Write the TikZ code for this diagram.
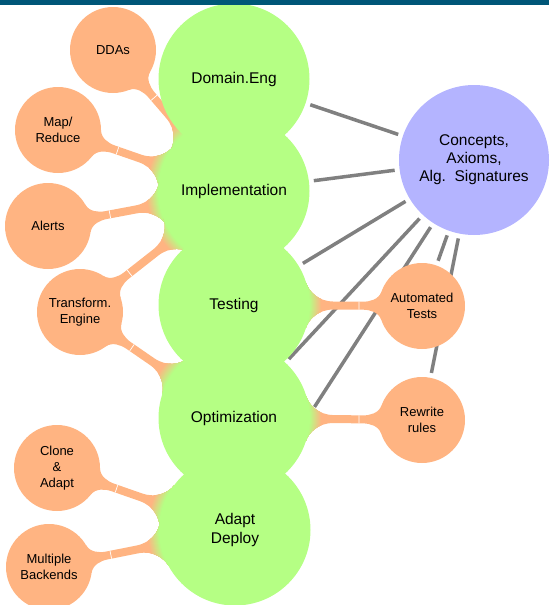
\documentclass[tikz,border=0pt]{standalone}
\usepackage{fontspec}
\setmainfont{Liberation Sans}
\usetikzlibrary{calc}
\definecolor{cgreen}{RGB}{181,255,132}
\definecolor{corange}{RGB}{255,180,130}
\definecolor{cpurple}{RGB}{180,180,255}
\definecolor{cline}{RGB}{128,128,128}
\definecolor{ctop}{RGB}{0,86,120}
\pgfdeclarelayer{bg}
\pgfdeclarelayer{mid}
\pgfsetlayers{bg,mid,main}
% outline of a stem in local coordinates (green centre at origin, orange centre at (\sblen,0))
\newcommand\sbpath{%
  (0,0) -- (72.2,-22.1) .. controls (74.6,-14.2) and (84,-4) .. (99.5,-4)
  -- ({\sblen-59},-4) .. controls ({\sblen-52},-4) and ({\sblen-43.3},-6.4) .. ({\sblen-40.7},-14)
  -- (\sblen,0)
  -- ({\sblen-40.7},14) .. controls ({\sblen-43.3},6.4) and ({\sblen-52},4) .. ({\sblen-59},4)
  -- (99.5,4) .. controls (84,4) and (74.6,14.2) .. (72.2,22.1) -- cycle}
% stem from green concept #1 to orange concept #2
\newcommand\stembar[2]{%
  \path let \p1=(#1.center), \p2=(#2.center) in
    \pgfextra{\pgfmathsetmacro\sbang{atan2(\y2-\y1,\x2-\x1)}%
              \pgfmathsetmacro\sblen{veclen(\x2-\x1,\y2-\y1)}%
              \xdef\sbang{\sbang}\xdef\sblen{\sblen}};
  \begin{scope}[shift={(#1.center)},rotate=\sbang]
    \fill[corange] \sbpath;
    \begin{scope}
      \clip \sbpath;
      \foreach \i in {0,...,12}{%
        \pgfmathsetmacro\pp{\i*100/12}%
        \fill[cgreen!\pp!corange] (0,0) circle ({88-\i});
      }
    \end{scope}
    \draw[white,line width=0.7pt] ({\sblen-63},-4) -- ({\sblen-63},4);
  \end{scope}
}
\begin{document}
\begin{tikzpicture}[x=1pt,y=-1pt,
  greenc/.style={circle,fill=cgreen,minimum size=151pt,inner sep=0pt,outer sep=0pt,align=center,font=\fontsize{15.5}{19}\selectfont},
  orangec/.style={circle,fill=corange,minimum size=86pt,inner sep=0pt,outer sep=0pt,align=center,font=\fontsize{13}{16}\selectfont},
  purplec/.style={circle,fill=cpurple,minimum size=150pt,inner sep=0pt,outer sep=0pt,align=center,font=\fontsize{15.5}{18}\selectfont},
  link/.style={draw=cline,line width=3.5pt,shorten <=5pt,shorten >=5pt}
]
\useasboundingbox (0,0) rectangle (549,605);
% concepts
\node[greenc] (dom) at (234,79) {Domain.Eng};
\node[greenc] (impl) at (234,191) {Implementation};
\node[greenc] (test) at (234,305) {Testing};
\node[greenc] (opt) at (234,418) {Optimization};
\node[greenc] (adapt) at (235,530) {Adapt\\Deploy};
\node[purplec] (conc) at (474,160) {Concepts,\\Axioms,\\Alg.\ \ Signatures};
\node[orangec] (ddas) at (113,50) {DDAs};
\node[orangec] (mapr) at (58,130) {Map/\\Reduce};
\node[orangec] (alerts) at (48,226) {Alerts};
\node[orangec] (trans) at (80,312) {Transform.\\Engine};
\node[orangec] (clone) at (57,468) {Clone\\\&\\Adapt};
\node[orangec] (multi) at (49,567) {Multiple\\Backends};
\node[orangec] (auto) at (422,306) {Automated\\Tests};
\node[orangec] (rewr) at (422,420) {Rewrite\\rules};
% grey links
\begin{pgfonlayer}{bg}
\draw[link] (dom) -- (conc);
\draw[link] (impl) -- (conc);
\draw[link] (test) -- (conc);
\draw[link] (opt) -- (conc);
\draw[link,shorten <=71pt] (adapt) -- (conc);
\draw[link] (conc) -- (auto);
\draw[link] (conc) -- (rewr);
\end{pgfonlayer}
% mindmap stems
\begin{pgfonlayer}{mid}
\stembar{impl}{ddas}
\stembar{impl}{mapr}
\stembar{impl}{alerts}
\stembar{impl}{trans}
\stembar{opt}{trans}
\stembar{test}{auto}
\stembar{opt}{rewr}
\stembar{adapt}{clone}
\stembar{adapt}{multi}
\end{pgfonlayer}
\fill[ctop] (0,0) rectangle (549,4.7);
\end{tikzpicture}
\end{document}
